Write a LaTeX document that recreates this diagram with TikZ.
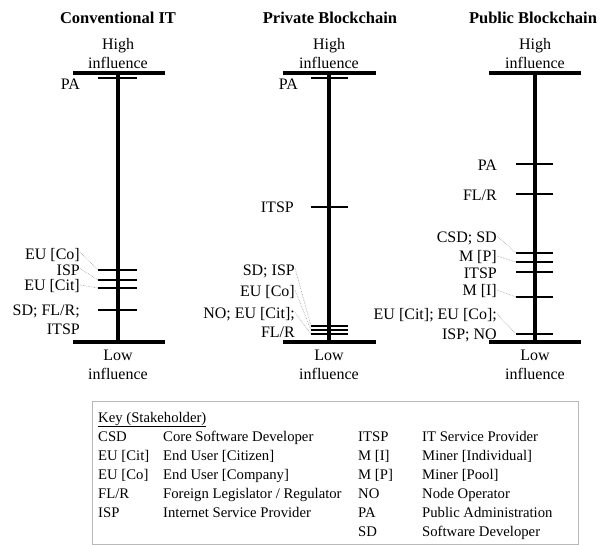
\documentclass[tikz,border=0pt]{standalone}
\usepackage{fontspec}
\setmainfont{Liberation Serif}
\begin{document}
\begin{tikzpicture}[x=1pt,y=-1pt,
  txt/.style={font=\fontsize{16}{19}\selectfont, inner sep=0pt, align=center},
  ttl/.style={font=\bfseries\fontsize{16.5}{19}\selectfont, inner sep=0pt},
  lbl/.style={font=\fontsize{16}{19.5}\selectfont, inner sep=0pt, anchor=east, align=right},
  bar/.style={line width=4pt},
  axis/.style={line width=3.5pt},
  tickmark/.style={line width=1.6pt},
  leader/.style={draw=gray!80, line width=0.6pt, densely dotted},
  keyt/.style={font=\fontsize{14.7}{19}\selectfont, inner sep=0pt, anchor=base west},
  keybox/.style={draw=gray!55, line width=1.3pt}]
\useasboundingbox (0,0) rectangle (600,544);

% ---------- Column 1: Conventional IT ----------
\node[ttl] (t1) at (118,18) {Conventional IT};
\node[txt] (h1) at (118,53.5) {High\\influence};
\node[txt] (lo1) at (118,364.5) {Low\\influence};
\coordinate (a1t) at (118,73);
\coordinate (a1b) at (118,342);
\draw[axis] (a1t) -- (a1b);
\draw[bar] (73,73) -- (165,73);
\draw[bar] (73,342) -- (165,342);
\draw[tickmark] (98,78) -- (137,78);
\coordinate (k1a) at (98,270);
\coordinate (k1b) at (98,280);
\coordinate (k1c) at (98,288);
\draw[tickmark] (k1a) -- (137,270);
\draw[tickmark] (k1b) -- (137,280);
\draw[tickmark] (k1c) -- (137,288);
\draw[tickmark] (98,310) -- (137,310);
\node[lbl] (p1) at (80,84) {PA};
\node[lbl] (eco1) at (80,255) {EU [Co]};
\node[lbl] (isp1) at (80,270.5) {ISP};
\node[lbl] (ecit1) at (80,286) {EU [Cit]};
\node[lbl] (sd1) at (80,320) {SD; FL/R;\\ITSP};
\draw[leader] ([yshift=3pt]eco1.east) -- (k1a);
\draw[leader] ([yshift=2pt]isp1.east) -- (k1b);
\draw[leader] ([yshift=1pt]ecit1.east) -- (k1c);

% ---------- Column 2: Private Blockchain ----------
\node[ttl] (t2) at (330,18) {Private Blockchain};
\node[txt] (h2) at (329,53.5) {High\\influence};
\node[txt] (lo2) at (329,364.5) {Low\\influence};
\coordinate (a2t) at (329,73);
\coordinate (a2b) at (329,342);
\draw[axis] (a2t) -- (a2b);
\draw[bar] (283,73) -- (376,73);
\draw[bar] (283,342) -- (376,342);
\draw[tickmark] (311,78) -- (348,78);
\draw[tickmark] (311,207) -- (348,207);
\coordinate (k2a) at (311,326);
\coordinate (k2b) at (311,330);
\coordinate (k2c) at (311,334);
\draw[tickmark] (k2a) -- (348,326);
\draw[tickmark] (k2b) -- (348,330);
\draw[tickmark] (k2c) -- (348,334);
\node[lbl] (p2) at (298,84) {PA};
\node[lbl] (it2) at (294,207) {ITSP};
\node[lbl] (sd2) at (295,271) {SD; ISP};
\node[lbl] (eco2) at (295,292) {EU [Co]};
\node[lbl] (no2) at (295,322.5) {NO; EU [Cit];\\FL/R};
\draw[leader] ([yshift=3pt]sd2.east) -- (k2a);
\draw[leader] ([yshift=2pt]eco2.east) -- (k2b);
\draw[leader] ([yshift=10pt]no2.east) -- (k2c);

% ---------- Column 3: Public Blockchain ----------
\node[ttl] (t3) at (533,18) {Public Blockchain};
\node[txt] (h3) at (535,53.5) {High\\influence};
\node[txt] (lo3) at (535,364.5) {Low\\influence};
\coordinate (a3t) at (535,73);
\coordinate (a3b) at (535,342);
\draw[axis] (a3t) -- (a3b);
\draw[bar] (489,73) -- (581,73);
\draw[bar] (489,342) -- (581,342);
\draw[tickmark] (516,164) -- (553,164);
\draw[tickmark] (516,194) -- (553,194);
\coordinate (k3a) at (516,253);
\coordinate (k3b) at (516,262);
\coordinate (k3d) at (516,297);
\coordinate (k3e) at (516,334);
\draw[tickmark] (k3a) -- (553,253);
\draw[tickmark] (k3b) -- (553,262);
\draw[tickmark] (516,272) -- (553,272);
\draw[tickmark] (k3d) -- (553,297);
\draw[tickmark] (k3e) -- (553,334);
\node[lbl] (p3) at (497,165) {PA};
\node[lbl] (fl3) at (497,195) {FL/R};
\node[lbl] (csd3) at (497,238) {CSD; SD};
\node[lbl] (mp3) at (497,257) {M [P]};
\node[lbl] (it3) at (497,273) {ITSP};
\node[lbl] (mi3) at (497,291) {M [I]};
\node[lbl] (eu3) at (497,325) {EU [Cit]; EU [Co];\\ISP; NO};
\draw[leader] ([yshift=2pt]csd3.east) -- (k3a);
\draw[leader] ([yshift=1pt]mp3.east) -- (k3b);
\draw[leader] ([yshift=1pt]mi3.east) -- (k3d);
\draw[leader] ([yshift=11pt]eu3.east) -- (k3e);

% ---------- Key ----------
\node[keybox, minimum width=486pt, minimum height=143pt, anchor=north west, inner sep=0pt] (box) at (92,401) {};
\node[keyt] (kh) at (98,422) {\underline{Key (Stakeholder)}};
\node[keyt] (c1) at (98,441) {CSD};   \node[keyt] (d1) at (163,441) {Core Software Developer};
\node[keyt] (c2) at (98,460) {EU [Cit]}; \node[keyt] (d2) at (163,460) {End User [Citizen]};
\node[keyt] (c3) at (98,479) {EU [Co]};  \node[keyt] (d3) at (163,479) {End User [Company]};
\node[keyt] (c4) at (98,498) {FL/R};     \node[keyt] (d4) at (163,498) {Foreign Legislator / Regulator};
\node[keyt] (c5) at (98,517) {ISP};      \node[keyt] (d5) at (163,517) {Internet Service Provider};
\node[keyt] (c6) at (358,441) {ITSP};    \node[keyt] (d6) at (422,441) {IT Service Provider};
\node[keyt] (c7) at (358,460) {M [I]};   \node[keyt] (d7) at (422,460) {Miner [Individual]};
\node[keyt] (c8) at (358,479) {M [P]};   \node[keyt] (d8) at (422,479) {Miner [Pool]};
\node[keyt] (c9) at (358,498) {NO};      \node[keyt] (d9) at (422,498) {Node Operator};
\node[keyt] (c10) at (358,517) {PA};     \node[keyt] (d10) at (422,517) {Public Administration};
\node[keyt] (c11) at (358,536) {SD};     \node[keyt] (d11) at (422,536) {Software Developer};
\end{tikzpicture}
\end{document}
